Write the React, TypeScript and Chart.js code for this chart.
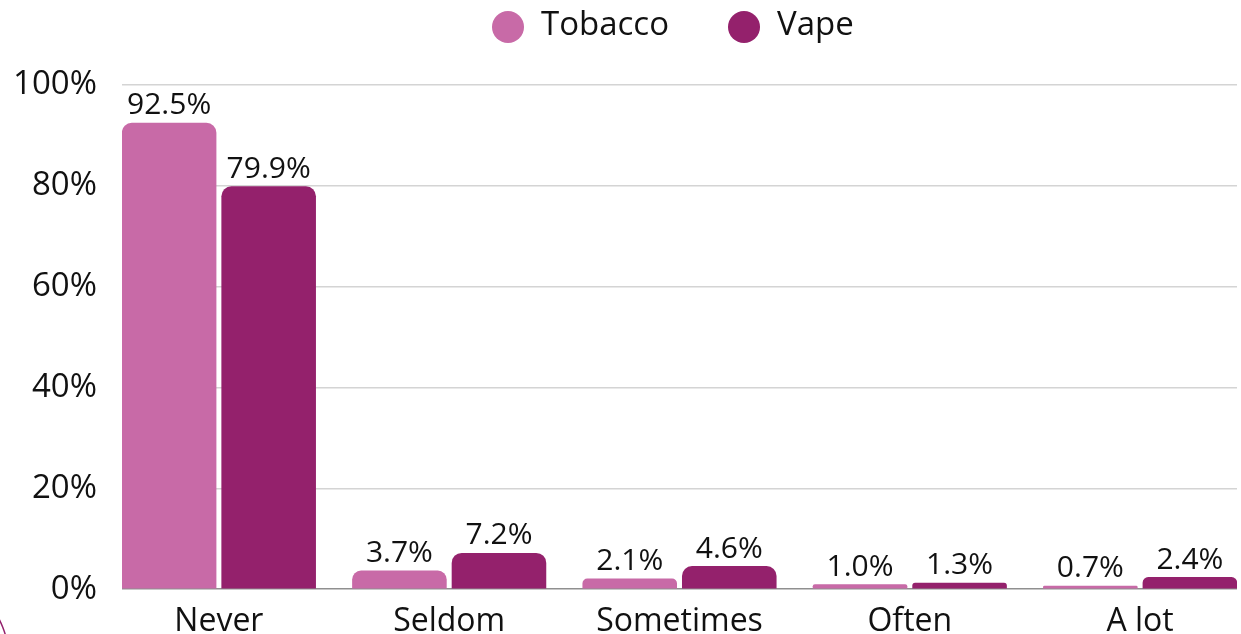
import React, { useEffect, useRef } from "react";
import { Chart, registerables } from "chart.js";

Chart.register(...registerables);

const categories = ["Never", "Seldom", "Sometimes", "Often", "A lot"];
const seriesNames = ["Tobacco", "Vape"];
const tobaccoValues = [92.5, 3.7, 2.1, 1.0, 0.7];
const vapeValues = [79.9, 7.2, 4.6, 1.3, 2.4];
const yTickValues = [0, 20, 40, 60, 80, 100];

const TOBACCO_COLOR = "#C86AA7";
const VAPE_COLOR = "#94216C";
const TEXT_COLOR = "#111111";
const FONT = "'Open Sans', 'Noto Sans', sans-serif";

const valueLabels = {
  id: "valueLabels",
  afterDatasetsDraw(chart: any) {
    const ctx = chart.ctx;
    ctx.save();
    ctx.font = `30px ${FONT}`;
    ctx.fillStyle = TEXT_COLOR;
    ctx.textAlign = "center";
    ctx.textBaseline = "alphabetic";
    chart.data.datasets.forEach((ds: any, di: number) => {
      const meta = chart.getDatasetMeta(di);
      meta.data.forEach((bar: any, i: number) => {
        const v = ds.data[i].y;
        ctx.fillText(`${v.toFixed(1)}%`, bar.x, bar.y - 8.5);
      });
    });
    ctx.restore();
  },
};

const cornerArc = {
  id: "cornerArc",
  afterDraw(chart: any) {
    const ctx = chart.ctx;
    ctx.save();
    ctx.strokeStyle = VAPE_COLOR;
    ctx.lineWidth = 1.5;
    ctx.beginPath();
    ctx.arc(-80, 660, 89, 0, Math.PI * 2);
    ctx.stroke();
    ctx.restore();
  },
};

export default function App() {
  const canvasRef = useRef<HTMLCanvasElement | null>(null);

  useEffect(() => {
    if (!canvasRef.current) return;
    const chart = new Chart(canvasRef.current, {
      type: "bar",
      data: {
        datasets: [
          {
            label: seriesNames[0],
            data: tobaccoValues.map((v, i) => ({ x: i, y: v })),
            backgroundColor: TOBACCO_COLOR,
            borderRadius: 10,
            borderSkipped: "start",
          },
          {
            label: seriesNames[1],
            data: vapeValues.map((v, i) => ({ x: i, y: v })),
            backgroundColor: VAPE_COLOR,
            borderRadius: 10,
            borderSkipped: "start",
          },
        ],
      },
      options: {
        animation: false,
        responsive: false,
        maintainAspectRatio: false,
        categoryPercentage: 0.8645,
        barPercentage: 0.95,
        layout: { padding: { top: 85, right: 4, left: 0, bottom: 0 } },
        plugins: {
          legend: { display: false },
          tooltip: { enabled: false },
        },
        scales: {
          x: {
            type: "linear",
            offset: false,
            min: -0.4207,
            max: categories.length - 1 + 0.4207,
            grid: { display: false, drawTicks: false, offset: false },
            border: { display: false },
            ticks: {
              includeBounds: false,
              stepSize: 1,
              padding: 13,
              color: TEXT_COLOR,
              font: { family: FONT, size: 32 },
              callback: (v: any) => categories[v] ?? "",
            },
            afterBuildTicks: (s: any) => {
              s.ticks = categories.map((_, i) => ({ value: i }));
            },
            afterFit: (s: any) => {
              s.height = 44;
            },
          },
          y: {
            min: 0,
            max: 100,
            grid: {
              drawTicks: false,
              lineWidth: 1.5,
              color: (c: any) => (c.tick && c.tick.value === 0 ? "#8f8f8f" : "#d4d4d4"),
            },
            border: { display: false },
            ticks: {
              stepSize: 20,
              padding: 25,
              color: TEXT_COLOR,
              font: { family: FONT, size: 33 },
              callback: (v: any) => `${v}%`,
            },
            afterBuildTicks: (s: any) => {
              s.ticks = yTickValues.map((v) => ({ value: v }));
            },
            afterFit: (s: any) => {
              s.width = 122;
            },
          },
        },
      },
      plugins: [valueLabels, cornerArc],
    });
    return () => chart.destroy();
  }, []);

  const legendText: React.CSSProperties = {
    position: "absolute",
    top: 6,
    fontFamily: FONT,
    fontSize: 33,
    lineHeight: "33px",
    color: TEXT_COLOR,
    whiteSpace: "nowrap",
  };
  const dot = (left: number, color: string): React.CSSProperties => ({
    position: "absolute",
    left,
    top: 11,
    width: 32,
    height: 32,
    borderRadius: "50%",
    background: color,
  });

  return (
    <div style={{ position: "absolute", left: 0, top: 0, width: 1241, height: 634, background: "#fff", overflow: "hidden" }}>
      <canvas ref={canvasRef} width={1241} height={634} style={{ position: "absolute", left: 0, top: 0 }} />
      <div style={dot(492, TOBACCO_COLOR)} />
      <span style={{ ...legendText, left: 541 }}>{seriesNames[0]}</span>
      <div style={dot(728, VAPE_COLOR)} />
      <span style={{ ...legendText, left: 777 }}>{seriesNames[1]}</span>
    </div>
  );
}
